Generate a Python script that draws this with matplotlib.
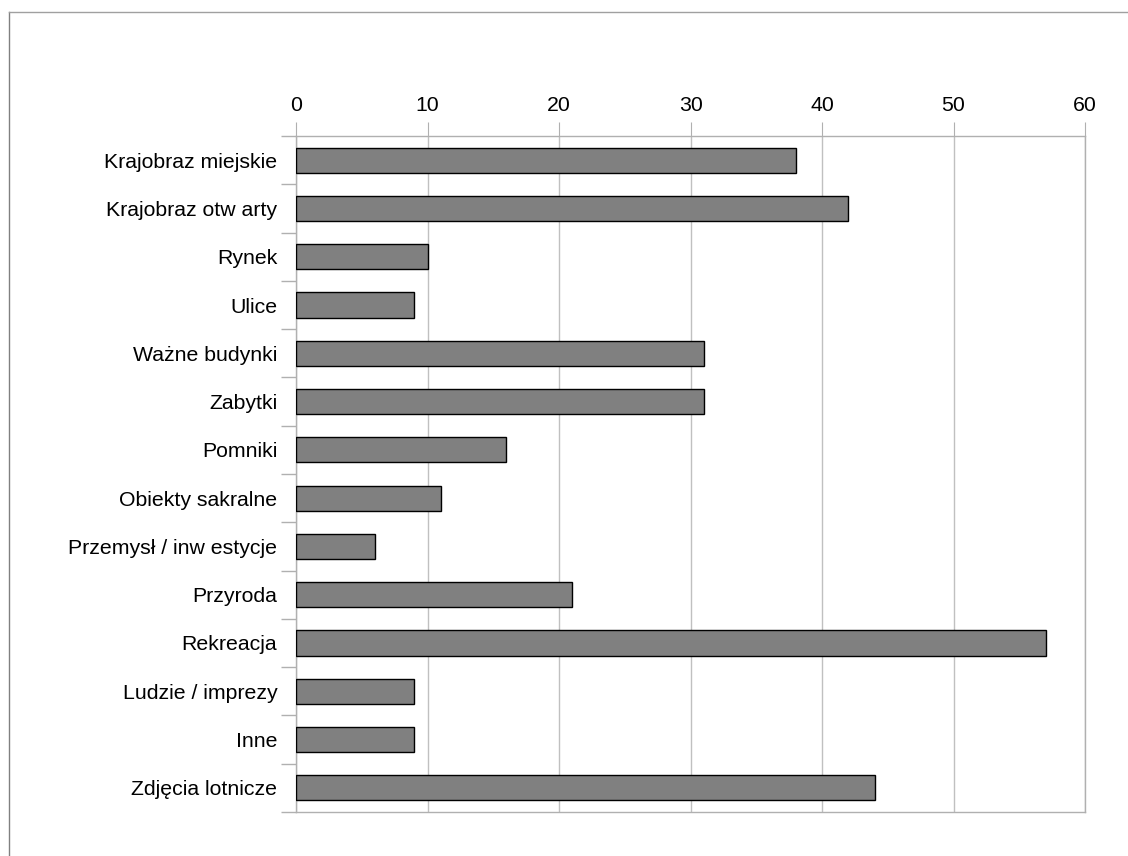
import matplotlib
matplotlib.use("Agg")
import matplotlib.pyplot as plt
import numpy as np
from matplotlib.lines import Line2D

categories = ["Krajobraz miejskie", "Krajobraz otw arty", "Rynek", "Ulice",
              "Ważne budynki", "Zabytki", "Pomniki", "Obiekty sakralne",
              "Przemysł / inw estycje", "Przyroda", "Rekreacja",
              "Ludzie / imprezy", "Inne", "Zdjęcia lotnicze"]
values = [38, 42, 10, 9, 31, 31, 16, 11, 6, 21, 57, 9, 9, 44]
xticks = [0, 10, 20, 30, 40, 50, 60]

plt.rcParams['font.family'] = ['Liberation Sans', 'DejaVu Sans']

fig = plt.figure(figsize=(11.28, 8.56), dpi=100)
ax = fig.add_axes([296/1128, 1 - 812/856, (1085-296)/1128, (812-136)/856])

n = len(categories)
pos = np.arange(n)
ax.barh(pos, values, height=0.52, color="#808080", edgecolor="black",
        linewidth=1.0, zorder=3)

ax.set_xlim(0, 60)
ax.set_ylim(n - 0.5, -0.5)
ax.xaxis.tick_top()
ax.set_xticks(xticks)
ax.set_xticklabels([str(t) for t in xticks], fontsize=15.3)
ax.tick_params(axis='x', which='major', length=10, color="#b0b0b0",
               pad=5, top=True, bottom=False)
ax.grid(axis='x', color="#c0c0c0", linewidth=1.0, zorder=0)

ax.set_yticks(pos)
ax.set_yticklabels(categories, fontsize=15.3)
ax.tick_params(axis='y', which='major', length=0, pad=13.5)
ax.set_yticks(np.arange(-0.5, n, 1.0), minor=True)
ax.tick_params(axis='y', which='minor', length=11, color="#b0b0b0", width=1.0)

for s in ax.spines.values():
    s.set_color("#b0b0b0")
    s.set_linewidth(1.0)

# outer frame
fig.add_artist(Line2D([9/1128, 9/1128], [0, 1 - 12/856], color="#808080",
                      linewidth=1.0, transform=fig.transFigure))
fig.add_artist(Line2D([9/1128, 1], [1 - 12/856, 1 - 12/856], color="#a0a0a0",
                      linewidth=1.0, transform=fig.transFigure))

fig.savefig("out.png", dpi=100)
